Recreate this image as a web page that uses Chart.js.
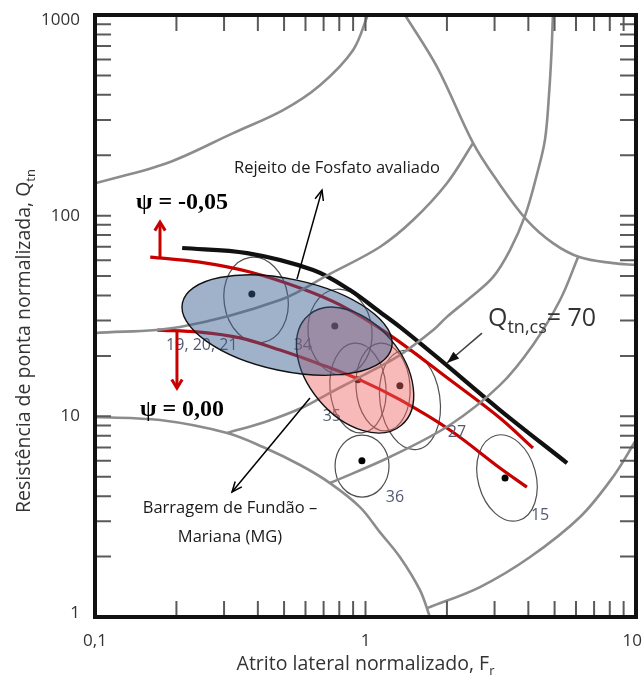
<!DOCTYPE html>
<html>
<head>
<meta charset="utf-8">
<script src="https://cdn.jsdelivr.net/npm/chart.js@4.4.0/dist/chart.umd.min.js"></script>
<style>
  html, body { margin: 0; padding: 0; background: #fff; }
  #wrap { width: 644px; height: 690px; }
</style>
</head>
<body>
<div id="wrap"><canvas id="c" width="644" height="690"></canvas></div>
<script>
// ---- axes ----
const xTicks = [0.1, 1, 10];
const xTickLabels = ['0,1', '1', '10'];
const yTicks = [1, 10, 100, 1000];
const yTickLabels = ['1', '10', '100', '1000'];

// ---- soil behaviour type boundaries [Fr, Qtn] ----
const boundaryA = [[0.1,145],[0.185,183],[0.324,258],[0.496,336],[0.679,447],[0.899,668],[1.02,1000]];
const boundaryB = [[1.40,1000],[1.84,550],[2.50,230],[3.06,150],[3.95,95],[4.93,73],[6.21,62],[8.22,58],[10,56.7]];
const boundaryC = [[4.93,1000],[4.87,650],[4.78,420],[4.61,240],[4.30,160],[3.89,100],[3.42,67.4],[2.96,49.4],
                   [2.43,38.9],[2.00,31.3],[1.78,26.9],[1.34,20.2],[0.954,15.7],[0.739,13.1],[0.588,11.1],[0.425,9.37],[0.308,8.26]];
const boundaryD = [[0.1,26.0],[0.206,27.9],[0.483,38.0],[0.739,51.3],[1.13,69.8],[1.50,95.1],[2.00,145],[2.50,230]];
const boundaryE = [[6.11,62.2],[5.24,38.0],[4.16,22.7],[3.14,14.3],[2.05,9.05],[1.23,6.27],[0.739,4.65]];
const boundaryF = [[0.1,9.92],[0.174,9.58],[0.308,8.26],[0.418,7.03],[0.573,5.72],[0.739,4.65],[0.954,3.53],
                   [1.13,2.65],[1.34,1.99],[1.59,1.36],[1.73,1.0]];
const boundaryG = [[1.70,1.11],[2.65,1.41],[4.06,1.99],[6.21,3.15],[8.22,4.99],[10,7.62]];

// ---- state lines [Fr, Qtn] ----
const qtnCs70 = [[0.210,69.0],[0.365,65.1],[0.640,53.6],[0.876,42.6],[1.13,33.1],[1.34,27.9],[1.89,19.1],[3.14,10.75],[5.56,5.85]];
const psiMinus005 = [[0.160,62.2],[0.244,58.7],[0.374,52.4],[0.573,43.6],[0.805,35.9],[1.23,25.4],[2.05,15.2],[3.14,9.81],[4.16,6.95]];
const psiZero = [[0.170,26.9],[0.244,26.3],[0.344,24.6],[0.483,21.4],[0.679,18.2],[0.954,15.2],[1.34,12.1],[2.05,8.55],[3.14,5.53],[3.95,4.44]];

// ---- CPT soundings (mean values) ----
const pointNames = ['19, 20, 21', '34', '35', '27', '36', '15'];
const pointFr  = [0.380, 0.770, 0.937, 1.34, 0.97, 3.28];
const pointQtn = [40.7, 28.2, 15.2, 14.2, 6.0, 4.93];

// ---- spread of each sounding: centre Fr, centre Qtn ----
const spreadFr  = [0.394, 0.805, 0.938, 1.161, 1.460, 0.971, 3.335];
const spreadQtn = [38.0, 26.3, 13.84, 14.0, 12.06, 5.65, 4.93];

// ---- tailings fields: centre Fr, centre Qtn ----
const fosfatoCentre = [0.513, 28.5];
const fundaoCentre  = [0.915, 17.0];

// ---- drawing styles ----
const spreadShape = [[32,43,-8],[32,43,-5],[28,45,-5],[27,44,-4],[30,50,-8],[27,31,0],[29,44,-15]]; // rx, ry, rot (px, deg)
const labelOffset = [[-50,51],[-32,19],[-26,37],[57,47],[33,37],[35,37]];
const GREY = '#8c8c8c';
const RED = '#c80000';

// annotation anchors in data units [Fr, Qtn]
const notes = {
  fosfatoText: [0.7845, 172.7],
  fosfatoArrow: [[0.558, 48.3], [0.6905, 134.1]],
  fundaoText1: [0.3155, 3.49],
  fundaoText2: [0.3155, 2.505],
  fundaoArrow: [[0.6234, 12.34], [0.321, 4.196]],
  csText: [2.837, 30.9],
  csArrow: [[2.696, 26.0], [2.001, 18.44]],
  psiUpText: [0.2097, 115.6],
  psiZeroText: [0.2097, 10.75],
  upArrow: [[0.1739, 62.2], [0.1739, 92.9]],
  downArrow: [[0.2009, 26.9], [0.2009, 13.84]]
};

const pts = arr => arr.map(p => ({ x: p[0], y: p[1] }));
function curve(arr, color, width) {
  return { data: pts(arr), showLine: true, borderColor: color, borderWidth: width,
           pointRadius: 0, tension: 0.35, fill: false };
}

const datasets = [
  curve(boundaryA, GREY, 2.6), curve(boundaryB, GREY, 2.6), curve(boundaryC, GREY, 2.6),
  curve(boundaryD, GREY, 2.6), curve(boundaryE, GREY, 2.6), curve(boundaryF, GREY, 2.6),
  curve(boundaryG, GREY, 2.6),
  curve(qtnCs70, '#111', 4.2),
  curve(psiMinus005, RED, 3.2),
  curve(psiZero, RED, 3.2),
  { data: pointFr.map((f, i) => ({ x: f, y: pointQtn[i] })), showLine: false,
    pointRadius: 3.5, pointBackgroundColor: '#000', pointBorderWidth: 0 }
];

function arrowHead(ctx, x1, y1, x2, y2, len, ang, filled) {
  const a = Math.atan2(y2 - y1, x2 - x1);
  ctx.beginPath();
  ctx.moveTo(x2 - len * Math.cos(a - ang), y2 - len * Math.sin(a - ang));
  ctx.lineTo(x2, y2);
  ctx.lineTo(x2 - len * Math.cos(a + ang), y2 - len * Math.sin(a + ang));
  if (filled) { ctx.closePath(); ctx.fill(); } else { ctx.stroke(); }
}

function partsText(ctx, x, y, parts, size, subSize, family, align) {
  // parts: [text, isSubscript]; y is the main baseline
  let w = 0;
  parts.forEach(([t, s]) => { ctx.font = (s ? subSize : size) + 'px ' + family; w += ctx.measureText(t).width; });
  let cx = align === 'center' ? x - w / 2 : x;
  ctx.textAlign = 'left';
  ctx.textBaseline = 'alphabetic';
  parts.forEach(([t, s]) => {
    ctx.font = (s ? subSize : size) + 'px ' + family;
    ctx.fillText(t, cx, s ? y + size * 0.28 : y);
    cx += ctx.measureText(t).width;
  });
}

const decorations = {
  id: 'decorations',
  beforeDatasetsDraw(chart) {
    const { ctx, scales: { x, y } } = chart;
    ctx.save();
    ctx.strokeStyle = '#505050';
    ctx.lineWidth = 1.2;
    spreadFr.forEach((f, i) => {
      const [rx, ry, rot] = spreadShape[i];
      ctx.beginPath();
      ctx.ellipse(x.getPixelForValue(f), y.getPixelForValue(spreadQtn[i]), rx, ry, rot * Math.PI / 180, 0, 2 * Math.PI);
      ctx.stroke();
    });
    ctx.restore();
  },
  afterDatasetsDraw(chart) {
    const { ctx, chartArea: a, scales: { x, y } } = chart;
    const P = p => [x.getPixelForValue(p[0]), y.getPixelForValue(p[1])];
    ctx.save();

    // sounding labels
    ctx.fillStyle = '#525a70';
    ctx.font = '16px "Open Sans"';
    ctx.textAlign = 'center';
    ctx.textBaseline = 'middle';
    pointNames.forEach((n, i) => {
      const px = x.getPixelForValue(pointFr[i]) + labelOffset[i][0];
      const py = y.getPixelForValue(pointQtn[i]) + labelOffset[i][1];
      ctx.fillText(n, px, py);
    });

    // tailings fields
    ctx.lineWidth = 1.4;
    ctx.strokeStyle = '#111';
    let [cx, cy] = P(fundaoCentre);
    ctx.beginPath();
    ctx.ellipse(cx, cy, 72, 47, 50 * Math.PI / 180, 0, 2 * Math.PI);
    ctx.fillStyle = 'rgba(240,100,100,0.45)';
    ctx.fill(); ctx.stroke();
    [cx, cy] = P(fosfatoCentre);
    ctx.beginPath();
    ctx.ellipse(cx, cy, 107, 46, 12 * Math.PI / 180, 0, 2 * Math.PI);
    ctx.fillStyle = 'rgba(55,95,145,0.48)';
    ctx.fill(); ctx.stroke();

    // pointer arrows
    ctx.strokeStyle = '#000';
    ctx.lineWidth = 1.5;
    [notes.fosfatoArrow, notes.fundaoArrow].forEach(([p0, p1]) => {
      const [x0, y0] = P(p0), [x1, y1] = P(p1);
      ctx.beginPath(); ctx.moveTo(x0, y0); ctx.lineTo(x1, y1); ctx.stroke();
      arrowHead(ctx, x0, y0, x1, y1, 11, 0.4, false);
    });
    {
      const [x0, y0] = P(notes.csArrow[0]), [x1, y1] = P(notes.csArrow[1]);
      ctx.strokeStyle = '#444'; ctx.fillStyle = '#111'; ctx.lineWidth = 1.6;
      ctx.beginPath(); ctx.moveTo(x0, y0); ctx.lineTo(x1, y1); ctx.stroke();
      arrowHead(ctx, x0, y0, x1, y1, 13, 0.35, true);
    }

    // dilatancy arrows
    ctx.strokeStyle = RED; ctx.lineWidth = 3;
    [notes.upArrow, notes.downArrow].forEach(([p0, p1]) => {
      const [x0, y0] = P(p0), [x1, y1] = P(p1);
      ctx.beginPath(); ctx.moveTo(x0, y0); ctx.lineTo(x1, y1); ctx.stroke();
      arrowHead(ctx, x0, y0, x1, y1, 10, 0.55, false);
    });

    // annotation texts
    ctx.fillStyle = '#1a1a1a';
    ctx.textAlign = 'center';
    ctx.textBaseline = 'middle';
    ctx.font = '16.5px "Open Sans"';
    let t = P(notes.fosfatoText); ctx.fillText('Rejeito de Fosfato avaliado', t[0], t[1]);
    t = P(notes.fundaoText1); ctx.fillText('Barragem de Fundão –', t[0], t[1]);
    t = P(notes.fundaoText2); ctx.fillText('Mariana (MG)', t[0], t[1]);
    ctx.font = 'bold 24px "Liberation Serif"';
    ctx.fillStyle = '#000';
    t = P(notes.psiUpText); ctx.fillText('ψ = -0,05', t[0], t[1]);
    t = P(notes.psiZeroText); ctx.fillText('ψ = 0,00', t[0], t[1]);
    ctx.fillStyle = '#333';
    t = P(notes.csText);
    partsText(ctx, t[0], t[1] + 8, [['Q', false], ['tn,cs', true], ['= 70', false]], 25, 18, '"Open Sans"', 'left');

    // inward tick marks
    ctx.strokeStyle = '#5a5a5a';
    ctx.lineWidth = 2;
    const TL = 16;
    for (const d of [0.1, 1]) for (let m = 1; m <= 9; m++) {
      const px = x.getPixelForValue(d * m);
      if (px <= a.left + 2 || px >= a.right - 2) continue;
      ctx.beginPath();
      ctx.moveTo(px, a.bottom); ctx.lineTo(px, a.bottom - TL);
      ctx.moveTo(px, a.top); ctx.lineTo(px, a.top + TL);
      ctx.stroke();
    }
    for (const d of [1, 10, 100]) for (let m = 1; m <= 9; m++) {
      const py = y.getPixelForValue(d * m);
      if (py <= a.top + 2 || py >= a.bottom - 2) continue;
      ctx.beginPath();
      ctx.moveTo(a.left, py); ctx.lineTo(a.left + TL, py);
      ctx.moveTo(a.right, py); ctx.lineTo(a.right - TL, py);
      ctx.stroke();
    }

    // frame
    ctx.strokeStyle = '#111';
    ctx.lineWidth = 4;
    ctx.strokeRect(a.left, a.top, a.right - a.left, a.bottom - a.top);

    // tick labels
    ctx.fillStyle = '#333';
    ctx.font = '17px "Open Sans"';
    ctx.textBaseline = 'middle';
    ctx.textAlign = 'right';
    yTicks.forEach((v, i) => {
      let py = y.getPixelForValue(v);
      if (v === yTicks[yTicks.length - 1]) py += 5;
      if (v === yTicks[0]) py -= 4;
      ctx.fillText(yTickLabels[i], 80, py);
    });
    ctx.textAlign = 'center';
    xTicks.forEach((v, i) => {
      let px = x.getPixelForValue(v);
      const w = ctx.measureText(xTickLabels[i]).width;
      px = Math.min(px, chart.width - w / 2 - 2);
      ctx.fillText(xTickLabels[i], px, 641);
    });

    // axis titles
    ctx.fillStyle = '#333';
    partsText(ctx, (a.left + a.right) / 2, 670, [['Atrito lateral normalizado, F', false], ['r', true]], 19.5, 13, '"Open Sans"', 'center');
    ctx.translate(30, 341);
    ctx.rotate(-Math.PI / 2);
    partsText(ctx, 0, 0, [['Resistência de ponta normalizada, Q', false], ['tn', true]], 19.5, 13, '"Open Sans"', 'center');
    ctx.restore();
  }
};

new Chart(document.getElementById('c'), {
  type: 'scatter',
  data: { datasets },
  options: {
    responsive: false,
    animation: false,
    events: [],
    layout: { padding: { left: 95, right: 8, top: 15, bottom: 73 } },
    scales: {
      x: { type: 'logarithmic', min: 0.1, max: 10, display: false },
      y: { type: 'logarithmic', min: 1, max: 1000, display: false }
    },
    plugins: { legend: { display: false }, tooltip: { enabled: false } }
  },
  plugins: [decorations]
});
</script>
</body>
</html>
